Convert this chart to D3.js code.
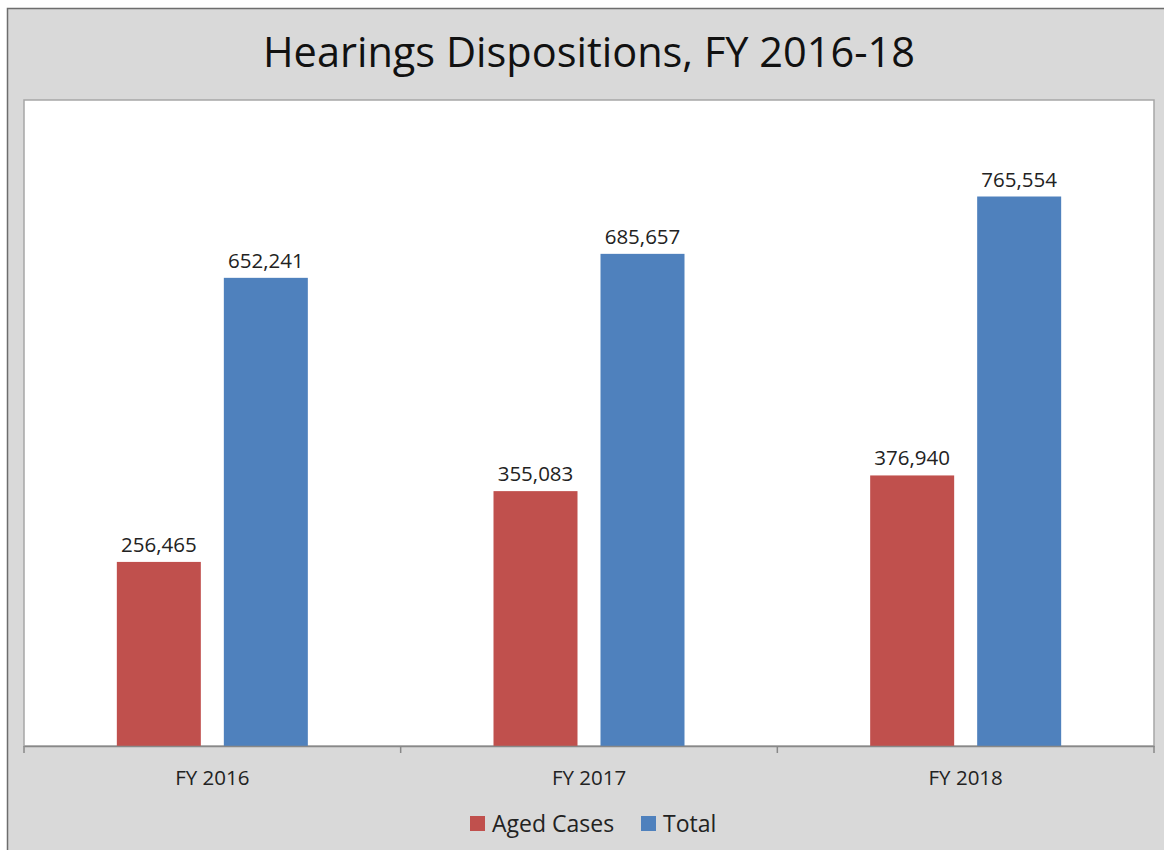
<!DOCTYPE html>
<html><head><meta charset="utf-8">
<script src="https://cdn.jsdelivr.net/npm/d3@7"></script>
<style>body{margin:0;background:#fff;}svg{display:block;}</style>
</head><body>
<svg id="c" width="1164" height="850"></svg>
<script>
const categories = ["FY 2016", "FY 2017", "FY 2018"];
const seriesNames = ["Aged Cases", "Total"];
const agedCases = [256465, 355083, 376940];
const total = [652241, 685657, 765554];
const colors = ["#c0504d", "#4f81bd"];
const title = "Hearings Dispositions, FY 2016-18";

const svg = d3.select("#c");
const font = "'Open Sans', sans-serif";
svg.append("rect").attr("x", 7.5).attr("y", 8.5).attr("width", 1160).attr("height", 850)
  .attr("fill", "#d9d9d9").attr("stroke", "#6d6d6d").attr("stroke-width", 1.5);

const L = 24, R = 1154, T = 100, B = 746;
svg.append("rect").attr("x", L).attr("y", T).attr("width", R - L).attr("height", B - T)
  .attr("fill", "#fff").attr("stroke", "#a6a6a6").attr("stroke-width", 1.5);

svg.append("text").attr("x", 589).attr("y", 67).attr("text-anchor", "middle")
  .attr("font-family", font).attr("font-size", 41.5).attr("fill", "#111").text(title);

const x0 = d3.scaleBand().domain(categories).range([L, R]).paddingInner(0).paddingOuter(0);
const y = d3.scaleLinear().domain([0, 900000]).range([B, T]);
const barW = 84, gap = 23;

const data = categories.map((c, i) => ({c, vals: [agedCases[i], total[i]]}));
const g = svg.append("g");
data.forEach(d => {
  const cx = x0(d.c) + x0.bandwidth() / 2;
  d.vals.forEach((v, j) => {
    const bx = j === 0 ? cx - gap / 2 - barW : cx + gap / 2;
    g.append("rect").attr("x", bx).attr("y", y(v)).attr("width", barW).attr("height", B - y(v))
      .attr("fill", colors[j]);
    g.append("text").attr("x", bx + barW / 2).attr("y", y(v) - 10).attr("text-anchor", "middle")
      .attr("font-family", font).attr("font-size", 20.5).attr("fill", "#222")
      .text(d3.format(",")(v));
  });
});

const axis = d3.axisBottom(x0).tickSize(0).tickPadding(24);
const ax = svg.append("g").attr("transform", `translate(0,${B})`).call(axis);
ax.select(".domain").attr("stroke", "#888").attr("stroke-width", 1.5);
ax.selectAll("text").attr("font-family", font).attr("font-size", 20.5).attr("fill", "#222");
const edges = categories.map(c => x0(c)).concat([R]);
svg.append("g").selectAll("line").data(edges).join("line")
  .attr("x1", d => d).attr("x2", d => d).attr("y1", B).attr("y2", B + 7)
  .attr("stroke", "#888").attr("stroke-width", 1.5);

const leg = svg.append("g");
const legX = [470, 641];
seriesNames.forEach((n, i) => {
  leg.append("rect").attr("x", legX[i]).attr("y", 816).attr("width", 15).attr("height", 15).attr("fill", colors[i]);
  leg.append("text").attr("x", legX[i] + 22).attr("y", 832).attr("font-family", font)
    .attr("font-size", 23).attr("fill", "#222").text(n);
});
</script>
</body></html>
